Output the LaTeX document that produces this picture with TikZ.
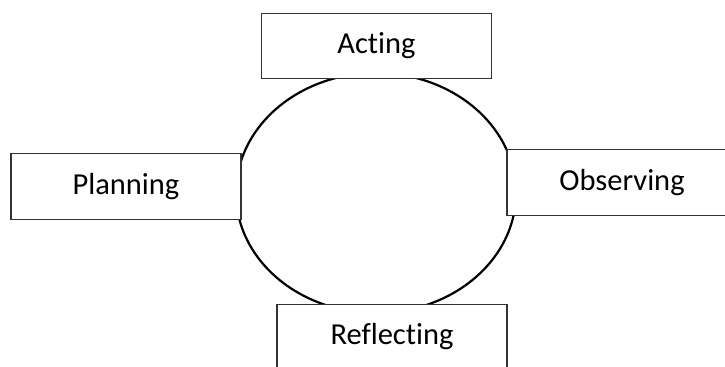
\documentclass[tikz,border=0pt]{standalone}
\usepackage{fontspec}
\setmainfont[Ligatures={NoCommon}]{Carlito}
\usetikzlibrary{shapes.geometric}
\begin{document}
\begin{tikzpicture}[x=1bp,y=-1bp,
  stagebox/.style={draw=black!80, line width=1.1bp, fill=white, minimum width=230bp, minimum height=65.5bp, inner sep=0pt, font=\fontsize{30.5bp}{36bp}\selectfont},
  cycle/.style={draw=black, line width=2.2bp}]
\useasboundingbox (0,0) rectangle (725,366);
\clip (0,0) rectangle (725,366);
\node[cycle, ellipse, minimum width=280bp, minimum height=240bp, inner sep=0pt] (loop) at (376,193) {};
\node[stagebox] (acting) at (376.5,46) {Acting};
\node[stagebox] (planning) at (126,186.5) {Planning};
\node[stagebox] (observing) at (622,182.5) {Observing};
\node[stagebox] (reflecting) at (392,337) {Reflecting};
\end{tikzpicture}
\end{document}
